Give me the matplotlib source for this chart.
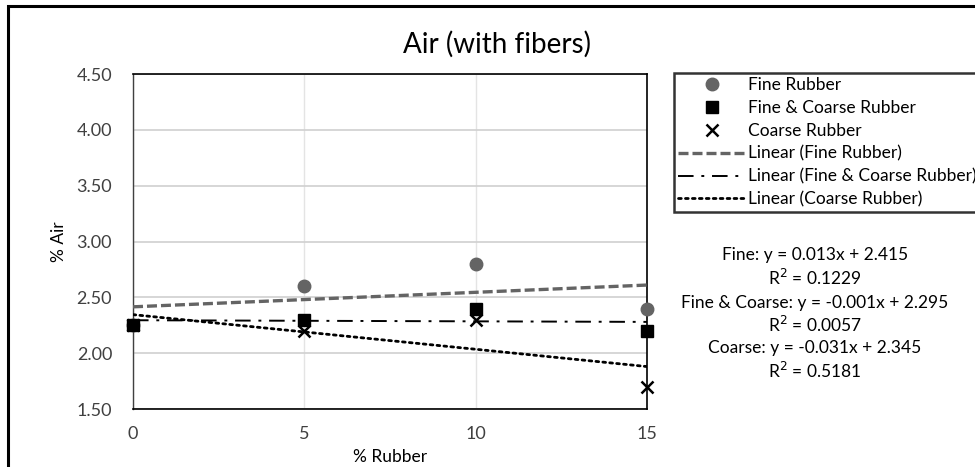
import numpy as np
import matplotlib.pyplot as plt
from matplotlib.lines import Line2D
from matplotlib.patches import Rectangle

plt.rcParams['font.family'] = ['Lato', 'DejaVu Sans']

rubber_pct = [0, 5, 10, 15]
fine_air = [2.25, 2.6, 2.8, 2.4]
fine_coarse_air = [2.25, 2.3, 2.4, 2.2]
coarse_air = [2.25, 2.2, 2.3, 1.7]

y_ticks = [1.5, 2.0, 2.5, 3.0, 3.5, 4.0, 4.5]
x_ticks = [0, 5, 10, 15]

fig = plt.figure(figsize=(9.75, 4.67), dpi=100)
ax = fig.add_axes([133 / 975, 58 / 467, 514 / 975, 335 / 467])

# outer chart frame
fig.patches.append(Rectangle((8 / 975, -0.05), 1.1, (467 - 6) / 467 + 0.05,
                             transform=fig.transFigure, fill=False,
                             edgecolor='black', linewidth=2.2, zorder=0))

x = np.array(rubber_pct, dtype=float)
series = [
    ('Fine', fine_air, dict(marker='o', color='#646464', ms=9),
     dict(color='#646464', ls=(0, (3, 1.2)), lw=2.4), 'Fine Rubber'),
    ('Fine & Coarse', fine_coarse_air, dict(marker='s', color='black', ms=9),
     dict(color='black', ls=(0, (8, 4, 1.5, 4)), lw=1.4), 'Fine & Coarse Rubber'),
    ('Coarse', coarse_air, dict(marker='x', color='black', ms=8, mew=1.8),
     dict(color='black', ls=(0, (1, 1.5)), lw=2.0, dash_capstyle='round'),
     'Coarse Rubber'),
]

marker_handles, line_handles, labels_m, labels_l = [], [], [], []
eq_lines = []
for name, vals, mstyle, lstyle, label in series:
    slope, icpt = np.polyfit(x, vals, 1)
    fit = slope * x + icpt
    r2 = 1 - np.sum((np.array(vals) - fit) ** 2) / np.sum((np.array(vals) - np.mean(vals)) ** 2)
    ax.plot([0, 15], [icpt, slope * 15 + icpt], zorder=3, **lstyle)
    ax.plot(x, vals, ls='none', zorder=4, clip_on=False, **mstyle)
    marker_handles.append(Line2D([], [], ls='none', **mstyle))
    line_handles.append(Line2D([], [], **lstyle))
    labels_m.append(label)
    labels_l.append('Linear (%s)' % label)
    eq_lines.append(('%s: y = %.3fx + %.3f' % (name, slope, icpt), 'R$^2$ = %.4f' % r2))

ax.set_xlim(0, 15)
ax.set_ylim(1.5, 4.5)
ax.set_xticks(x_ticks)
ax.set_yticks(y_ticks)
ax.set_yticklabels(['%.2f' % v for v in y_ticks])
ax.tick_params(length=0, labelsize=13, pad=12, colors='#404040')
ax.tick_params(axis='y', pad=15)
ax.grid(axis='y', color='#d0d0d0', lw=1.2)
ax.grid(axis='x', color='#e4e4e4', lw=1.0)
ax.set_axisbelow(True)
for side in ['top', 'right', 'bottom']:
    ax.spines[side].set_color('black')
    ax.spines[side].set_linewidth(1.2)
ax.spines['left'].set_color('#404040')
ax.spines['left'].set_linewidth(1.0)

ax.set_xlabel('% Rubber', fontsize=12.5, labelpad=5)
ax.set_ylabel('% Air', fontsize=12.5, labelpad=7)
fig.text(497 / 975, 1 - 44 / 467, 'Air (with fibers)', fontsize=20,
         ha='center', va='center')

leg = fig.legend(marker_handles + line_handles, labels_m + labels_l,
                 loc='upper left', bbox_to_anchor=(674 / 975, 1 - 73 / 467),
                 fontsize=12.5, frameon=True, fancybox=False, handlelength=3.9,
                 handletextpad=0.1, borderpad=0.25, labelspacing=0.39,
                 borderaxespad=0)
leg.get_frame().set_edgecolor('black')
leg.get_frame().set_linewidth(1.8)

ys = [255, 278, 303, 325, 348, 371]
texts = [t for pair in eq_lines for t in pair]
for yy, t in zip(ys, texts):
    fig.text(815 / 975, 1 - yy / 467, t, fontsize=12.5, ha='center', va='center')

fig.savefig('out.png', dpi=100)
